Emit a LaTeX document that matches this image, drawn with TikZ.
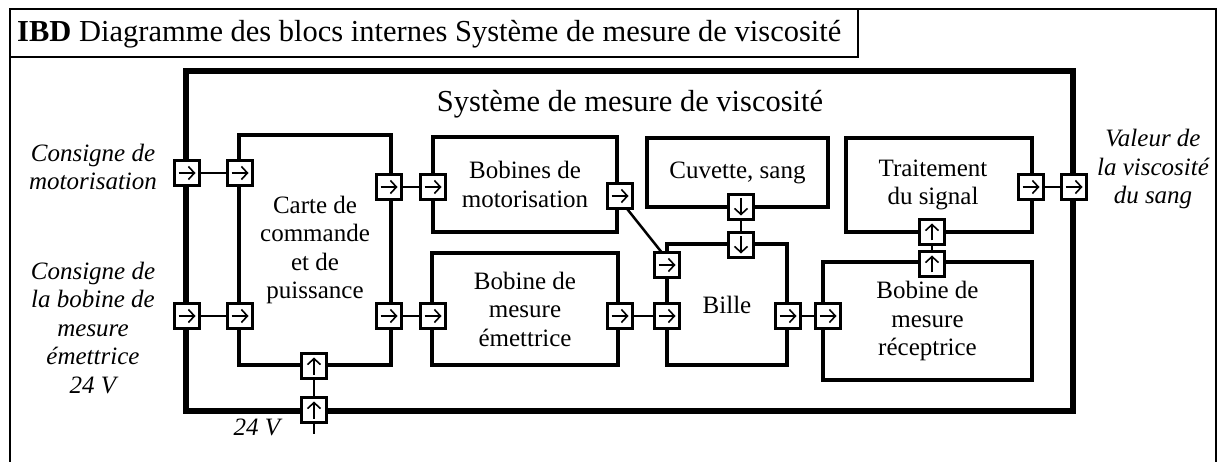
\documentclass[tikz,border=0pt]{standalone}
\usepackage{fontspec}
\setmainfont{Liberation Serif}
\usetikzlibrary{arrows.meta}
\tikzset{
  blk/.style={draw, line width=3.3pt, inner sep=0pt, align=center, font=\fontsize{25}{28.5}\selectfont},
  port/.style={draw, fill=white, line width=3.5pt, minimum size=25pt, inner sep=0pt, outer sep=0pt},
  parrow/.style={line width=1.6pt, -{Straight Barb[length=6pt,width=13pt]}},
  pR/.style={port, path picture={\draw[parrow] ([xshift=4pt]path picture bounding box.west) -- ([xshift=-4pt]path picture bounding box.east);}},
  pU/.style={port, path picture={\draw[parrow] ([yshift=4pt]path picture bounding box.south) -- ([yshift=-4pt]path picture bounding box.north);}},
  pD/.style={port, path picture={\draw[parrow] ([yshift=-4pt]path picture bounding box.north) -- ([yshift=4pt]path picture bounding box.south);}},
  wire/.style={line width=2.5pt},
  lbl/.style={align=center, inner sep=0pt, font=\fontsize{25}{28.5}\selectfont\itshape},
}
\begin{document}
\begin{tikzpicture}[x=1pt,y=-1pt]
\useasboundingbox (0,0) rectangle (1221,462);
% outer frame and title
\draw[line width=2.5pt] (10,480) -- (10,9) -- (1216,9) -- (1216,480);
\draw[line width=2.5pt] (10,57) -- (858,57) -- (858,9);
\node[anchor=west, inner sep=0pt, font=\fontsize{30.5}{36}\selectfont] (title) at (17,34)
  {\textbf{IBD} Diagramme des blocs internes Système de mesure de viscosité};
% system block
\node[draw, line width=5.5pt, minimum width=887pt, minimum height=340pt, inner sep=0pt] (sys) at (629.5,241) {};
\node[inner sep=0pt, font=\fontsize{30.5}{36}\selectfont] (syslbl) at (630,104) {Système de mesure de viscosité};
% blocks
\node[blk, minimum width=152pt, minimum height=230pt] (carte) at (315,250) {Carte de\\commande\\et de\\puissance};
\node[blk, minimum width=184pt, minimum height=95pt] (bmot) at (525,184.5) {Bobines de\\motorisation};
\node[blk, minimum width=186pt, minimum height=112pt] (bem) at (525,309) {Bobine de\\mesure\\émettrice};
\node[blk, minimum width=181pt, minimum height=69pt] (cuv) at (737.5,172.5) {Cuvette, sang};
\node[blk, minimum width=120pt, minimum height=121pt] (bille) at (727,304.5) {Bille};
\node[blk, minimum width=186pt, minimum height=94pt] (trait) at (939,185) {\hspace*{-12pt}Traitement\\\hspace*{-12pt}du signal};
\node[blk, minimum width=209pt, minimum height=118pt] (brec) at (927.5,321) {Bobine de\\mesure\\réceptrice};
% ports positions
\coordinate (cM1) at (187,173);
\coordinate (cC1) at (240,173);
\coordinate (cM2) at (187,316);
\coordinate (cC2) at (240,316);
\coordinate (cC3) at (389,187);
\coordinate (cB1) at (433,187);
\coordinate (cC4) at (389,316);
\coordinate (cE1) at (433,316);
\coordinate (cB2) at (620,196);
\coordinate (cE2) at (620,316);
\coordinate (cI1) at (667,265);
\coordinate (cI2) at (667,316);
\coordinate (cI3) at (741,245);
\coordinate (cV1) at (741,207);
\coordinate (cI4) at (788,316);
\coordinate (cR1) at (828,316);
\coordinate (cR2) at (932,264);
\coordinate (cT1) at (932,232);
\coordinate (cT2) at (1031,187);
\coordinate (cM3) at (1074,187);
\coordinate (cC5) at (314,366);
\coordinate (cM4) at (314,410);
\coordinate (v24) at (314,434);
% connectors
\draw[wire] (cM1) -- (cC1);
\draw[wire] (cM2) -- (cC2);
\draw[wire] (cC3) -- (cB1);
\draw[wire] (cC4) -- (cE1);
\draw[wire] ([yshift=-4pt]cB2) -- ([yshift=6pt]cI1);
\draw[wire] (cE2) -- (cI2);
\draw[wire] (cV1) -- (cI3);
\draw[wire] (cI4) -- (cR1);
\draw[wire] (cR2) -- (cT1);
\draw[wire] (cT2) -- (cM3);
\draw[wire] (cC5) -- (cM4);
\draw[wire] (cM4) -- (v24);
% ports
\node[pR] (pM1) at (cM1) {};
\node[pR] (pC1) at (cC1) {};
\node[pR] (pM2) at (cM2) {};
\node[pR] (pC2) at (cC2) {};
\node[pR] (pC3) at (cC3) {};
\node[pR] (pB1) at (cB1) {};
\node[pR] (pC4) at (cC4) {};
\node[pR] (pE1) at (cE1) {};
\node[pR] (pB2) at (cB2) {};
\node[pR] (pE2) at (cE2) {};
\node[pR] (pI1) at (cI1) {};
\node[pR] (pI2) at (cI2) {};
\node[pD] (pI3) at (cI3) {};
\node[pD] (pV1) at (cV1) {};
\node[pR] (pI4) at (cI4) {};
\node[pR] (pR1) at (cR1) {};
\node[pU] (pR2) at (cR2) {};
\node[pU] (pT1) at (cT1) {};
\node[pR] (pT2) at (cT2) {};
\node[pR] (pM3) at (cM3) {};
\node[pU] (pC5) at (cC5) {};
\node[pU] (pM4) at (cM4) {};
% external labels
\node[lbl] (lmot) at (93,167) {Consigne de\\motorisation};
\node[lbl] (lbob) at (93,328) {Consigne de\\la bobine de\\mesure\\émettrice\\24 V};
\node[lbl] (lval) at (1153,169) {Valeur de\\la viscosité\\du sang};
\node[lbl] (l24) at (257,427) {24 V};
\end{tikzpicture}
\end{document}
